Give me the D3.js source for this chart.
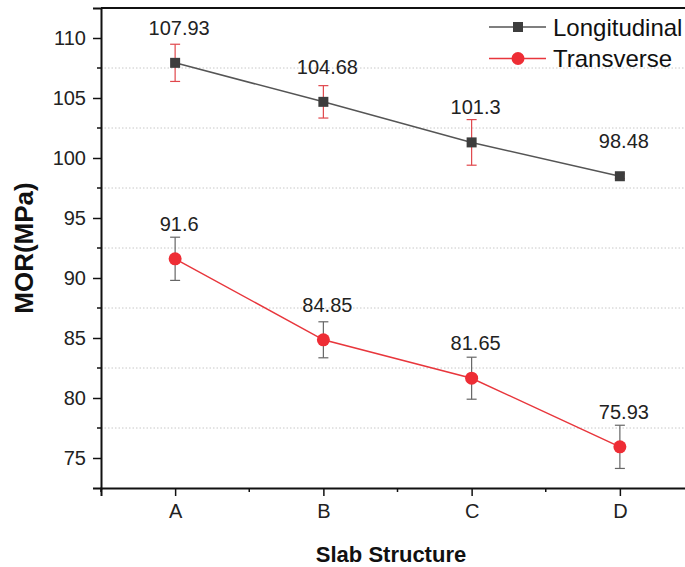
<!DOCTYPE html>
<html><head><meta charset="utf-8">
<script src="https://cdn.jsdelivr.net/npm/d3@7"></script>
<style>body{margin:0;background:#fff}svg{display:block;font-family:Arial,"Liberation Sans",sans-serif}</style>
</head><body><svg id="c" width="685" height="567"></svg>
<script>
const categories = ["A","B","C","D"];
const longitudinal = [107.93, 104.68, 101.3, 98.48];
const longitudinalErr = [1.55, 1.35, 1.9, 0.2];
const transverse = [91.6, 84.85, 81.65, 75.93];
const transverseErr = [1.8, 1.5, 1.75, 1.8];
const yTicks = [75, 80, 85, 90, 95, 100, 105, 110];
const yMinorTicks = [77.5, 82.5, 87.5, 92.5, 97.5, 102.5, 107.5];

const svg = d3.select("#c");
const L = 101, R = 685, T = 8, B = 488;
const x = d3.scaleLinear().domain([0.5, 4.5]).range([L, 694]);
const y = d3.scaleLinear().domain([72.5, 112.5]).range([B, T]);

// gridlines at minor positions
svg.append("g").selectAll("line").data(yMinorTicks).join("line")
  .attr("x1", L).attr("x2", R).attr("y1", d => y(d)).attr("y2", d => y(d))
  .attr("stroke", "#c8c8c8").attr("stroke-width", 1).attr("stroke-dasharray", "1.5,2");

// top border
svg.append("line").attr("x1", L).attr("x2", R).attr("y1", T).attr("y2", T)
  .attr("stroke", "#111").attr("stroke-width", 2);

// y axis
const yAxis = svg.append("g").attr("transform", `translate(${L},0)`)
  .call(d3.axisLeft(y).tickValues(yTicks).tickSize(8).tickPadding(7).tickFormat(d3.format("d")));
yAxis.select(".domain").attr("stroke", "#111").attr("stroke-width", 2);
yAxis.selectAll(".tick line").attr("stroke", "#111").attr("stroke-width", 1.5);
yAxis.selectAll(".tick text").attr("font-size", 20).attr("fill", "#222").attr("font-family", "Arial, Liberation Sans, sans-serif");
svg.append("g").selectAll("line").data(yMinorTicks).join("line")
  .attr("x1", L - 4).attr("x2", L).attr("y1", d => y(d)).attr("y2", d => y(d))
  .attr("stroke", "#111").attr("stroke-width", 1.5);

// x axis
const xAxis = svg.append("g").attr("transform", `translate(0,${B})`)
  .call(d3.axisBottom(x).tickValues([1,2,3,4]).tickSize(8).tickPadding(8).tickFormat(d => categories[d-1]));
xAxis.select(".domain").attr("stroke", "#111").attr("stroke-width", 2);
xAxis.selectAll(".tick line").attr("stroke", "#111").attr("stroke-width", 1.5);
xAxis.selectAll(".tick text").attr("font-size", 20).attr("fill", "#222").attr("font-family", "Arial, Liberation Sans, sans-serif");
svg.append("g").selectAll("line").data([0.5, 1.5, 2.5, 3.5]).join("line")
  .attr("x1", d => x(d)).attr("x2", d => x(d)).attr("y1", B).attr("y2", B + 4)
  .attr("stroke", "#111").attr("stroke-width", 1.5);

// axis titles
svg.append("text").attr("transform", `translate(33,248) rotate(-90)`)
  .attr("text-anchor", "middle")
  .attr("font-size", 26).attr("font-weight", "bold").attr("fill", "#111").text("MOR(MPa)");
svg.append("text").attr("x", 391).attr("y", 562).attr("text-anchor", "middle")
  .attr("font-size", 22).attr("font-weight", "bold").attr("fill", "#111").text("Slab Structure");

const idx = categories.map((c, i) => i + 1);
const line = d3.line().x(d => x(d[0])).y(d => y(d[1]));

function drawErr(vals, errs, color) {
  const g = svg.append("g");
  vals.forEach((v, i) => {
    const cx = x(i + 1), e = errs[i];
    g.append("line").attr("x1", cx).attr("x2", cx).attr("y1", y(v + e)).attr("y2", y(v - e)).attr("stroke", color).attr("stroke-width", 1.2);
    [v + e, v - e].forEach(w => g.append("line").attr("x1", cx - 5).attr("x2", cx + 5).attr("y1", y(w)).attr("y2", y(w)).attr("stroke", color).attr("stroke-width", 1.2));
  });
}

// Longitudinal
drawErr(longitudinal, longitudinalErr, "#e0474c");
svg.append("path").datum(idx.map((d, i) => [d, longitudinal[i]])).attr("d", line)
  .attr("fill", "none").attr("stroke", "#555").attr("stroke-width", 1.5);
svg.append("g").selectAll("rect").data(longitudinal).join("rect")
  .attr("x", (d, i) => x(i + 1) - 5).attr("y", d => y(d) - 5).attr("width", 10).attr("height", 10)
  .attr("fill", "#3d3d3d");

// Transverse
drawErr(transverse, transverseErr, "#666");
svg.append("path").datum(idx.map((d, i) => [d, transverse[i]])).attr("d", line)
  .attr("fill", "none").attr("stroke", "#e8363c").attr("stroke-width", 1.5);
svg.append("g").selectAll("circle").data(transverse).join("circle")
  .attr("cx", (d, i) => x(i + 1)).attr("cy", d => y(d)).attr("r", 6.5).attr("fill", "#ee2d35");

// value labels
[longitudinal, transverse].forEach(arr => {
  svg.append("g").selectAll("text").data(arr).join("text")
    .attr("x", (d, i) => x(i + 1) + 4).attr("y", d => y(d) - 28).attr("text-anchor", "middle")
    .attr("font-size", 20).attr("fill", "#222").text(d => d);
});

// legend
const leg = [{name: "Longitudinal", color: "#555", mark: "rect", fill: "#3d3d3d"},
             {name: "Transverse", color: "#e8363c", mark: "circle", fill: "#ee2d35"}];
leg.forEach((l, i) => {
  const ly = 27 + i * 31.5;
  svg.append("line").attr("x1", 489).attr("x2", 546).attr("y1", ly).attr("y2", ly).attr("stroke", l.color).attr("stroke-width", 1.5);
  if (l.mark === "rect") svg.append("rect").attr("x", 513).attr("y", ly - 5).attr("width", 10).attr("height", 10).attr("fill", l.fill);
  else svg.append("circle").attr("cx", 518).attr("cy", ly).attr("r", 6.5).attr("fill", l.fill);
  svg.append("text").attr("x", 553).attr("y", ly).attr("dominant-baseline", "central")
    .attr("font-size", 24).attr("fill", "#111").text(l.name);
});
</script></body></html>
